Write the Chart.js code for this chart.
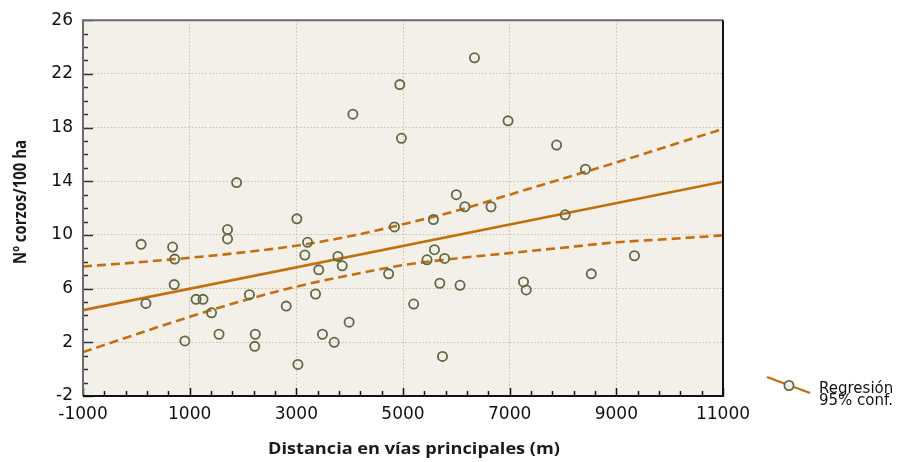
<!DOCTYPE html>
<html lang="es">
<head>
    <meta charset="UTF-8">
    <title>Corzos vs distancia</title>
    <style>
        html, body { margin: 0; padding: 0; background: #ffffff; }
        canvas { display: block; }
    </style>
</head>
<body>
    <canvas id="corzosChart" width="900" height="462"></canvas>

    <script src="https://cdn.jsdelivr.net/npm/chart.js"></script>
    <script>
        // Datos
        const distancia = [90, 180, 680, 720, 710, 910, 1120, 1250, 1410, 1550, 1710, 1710, 1880,
            2120, 2230, 2220, 2810, 3010, 3030, 3160, 3210, 3360, 3420, 3490, 3710, 3780, 3860,
            3990, 4060, 4730, 4840, 4940, 4970, 5200, 5450, 5570, 5590, 5690, 5740, 5780, 6000,
            6070, 6160, 6340, 6650, 6970, 7260, 7310, 7880, 8040, 8420, 8530, 9340];
        const corzos = [9.3, 4.9, 9.1, 8.2, 6.3, 2.1, 5.2, 5.2, 4.2, 2.6, 10.4, 9.7, 13.9,
            5.55, 2.6, 1.7, 4.7, 11.2, 0.35, 8.5, 9.45, 5.6, 7.4, 2.6, 2.0, 8.4, 7.7,
            3.5, 19.0, 7.1, 10.6, 21.2, 17.2, 4.85, 8.15, 11.15, 8.9, 6.4, 0.95, 8.25, 13.0,
            6.25, 12.1, 23.2, 12.1, 18.5, 6.5, 5.9, 16.7, 11.5, 14.9, 7.1, 8.45];

        // Recta de regresión
        const rectaX = [-1000, 11000];
        const rectaY = [4.4, 13.97];

        // Bandas de confianza 95%
        const bandaX = [-1000, 0, 1000, 2000, 3000, 4000, 5000, 6000, 7000, 8000, 9000, 10000, 11000];
        const bandaSup = [7.65, 7.95, 8.3, 8.7, 9.2, 9.9, 10.8, 11.8, 13.0, 14.2, 15.4, 16.65, 17.9];
        const bandaInf = [1.27, 2.6, 3.9, 5.1, 6.15, 7.0, 7.75, 8.25, 8.65, 9.05, 9.45, 9.7, 9.97];

        // Etiquetas de los ejes
        const xTicks = [-1000, 1000, 3000, 5000, 7000, 9000, 11000];
        const yTicks = [-2, 2, 6, 10, 14, 18, 22, 26];

        const naranja = '#c66e0e';
        const oliva = '#5f6a45';
        const fondo = '#f3f0e9';

        const toXY = (xs, ys) => xs.map((x, i) => ({ x: x, y: ys[i] }));

        // Fondo, marco, marcas de graduación, títulos y leyenda
        const marcoPlugin = {
            id: 'marco',
            beforeDraw(chart) {
                const { ctx, chartArea: a } = chart;
                ctx.save();
                ctx.fillStyle = '#ffffff';
                ctx.fillRect(0, 0, chart.width, chart.height);
                ctx.fillStyle = fondo;
                ctx.fillRect(a.left, a.top, a.right - a.left, a.bottom - a.top);
                ctx.restore();
            },
            afterDraw(chart) {
                const { ctx, chartArea: a, scales } = chart;
                const sx = scales.x, sy = scales.y;
                ctx.save();

                // marcas eje x (hacia dentro)
                ctx.strokeStyle = '#111';
                ctx.lineWidth = 1.5;
                for (let v = -1000; v <= 11000; v += 400) {
                    const px = Math.round(sx.getPixelForValue(v)) + 0.5;
                    const len = ((v + 1000) % 2000 === 0) ? 8 : 5;
                    ctx.beginPath();
                    ctx.moveTo(px, a.bottom);
                    ctx.lineTo(px, a.bottom - len);
                    ctx.stroke();
                }
                // marcas eje y
                ctx.strokeStyle = '#333';
                for (let v = -2; v <= 26; v += 1) {
                    const py = Math.round(sy.getPixelForValue(v)) + 0.5;
                    const len = ((v + 2) % 4 === 0) ? 10 : 5;
                    ctx.beginPath();
                    ctx.moveTo(a.left, py);
                    ctx.lineTo(a.left + len, py);
                    ctx.stroke();
                }

                // marco
                ctx.lineWidth = 2;
                ctx.strokeStyle = '#6b6b6b';
                ctx.beginPath();
                ctx.moveTo(a.left, a.bottom);
                ctx.lineTo(a.left, a.top);
                ctx.lineTo(a.right, a.top);
                ctx.stroke();
                ctx.strokeStyle = '#111';
                ctx.beginPath();
                ctx.moveTo(a.right, a.top);
                ctx.lineTo(a.right, a.bottom);
                ctx.lineTo(a.left, a.bottom);
                ctx.stroke();

                // títulos de ejes
                ctx.fillStyle = '#1a1a1a';
                ctx.textAlign = 'center';
                ctx.textBaseline = 'middle';
                ctx.font = 'bold 16px "Open Sans"';
                const tx = 'Distancia en vías principales (m)';
                const kx = 292 / ctx.measureText(tx).width;
                ctx.save();
                ctx.translate(414, 449);
                ctx.scale(kx, 1);
                ctx.fillText(tx, 0, 0);
                ctx.restore();

                const ty = 'Nº corzos/100 ha';
                ctx.font = 'bold 17px "Open Sans"';
                const ky = 124 / ctx.measureText(ty).width;
                ctx.save();
                ctx.translate(21, 202);
                ctx.rotate(-Math.PI / 2);
                ctx.scale(ky, 1);
                ctx.fillText(ty, 0, 0);
                ctx.restore();

                // leyenda
                ctx.strokeStyle = naranja;
                ctx.lineWidth = 2.4;
                ctx.beginPath();
                ctx.moveTo(767, 377);
                ctx.lineTo(810, 393);
                ctx.stroke();
                ctx.beginPath();
                ctx.arc(789, 385.5, 4.6, 0, Math.PI * 2);
                ctx.fillStyle = fondo;
                ctx.fill();
                ctx.strokeStyle = oliva;
                ctx.lineWidth = 1.8;
                ctx.stroke();
                ctx.fillStyle = '#111';
                ctx.textAlign = 'left';
                ctx.textBaseline = 'alphabetic';
                ctx.font = '15px "DejaVu Sans"';
                ctx.fillText('Regresión', 819, 393);
                ctx.fillText('95% conf.', 819, 405);

                ctx.restore();
            }
        };

        const gridColor = (ctx, extremos) =>
            extremos.includes(ctx.tick.value) ? 'rgba(0,0,0,0)' : '#c7c2a2';

        const corzosCtx = document.getElementById('corzosChart');
        const corzosChart = new Chart(corzosCtx, {
            type: 'scatter',
            data: {
                datasets: [{
                    label: 'Observaciones',
                    data: toXY(distancia, corzos),
                    pointStyle: 'circle',
                    pointRadius: 4.6,
                    pointBorderWidth: 1.8,
                    pointBorderColor: oliva,
                    pointBackgroundColor: 'rgba(0,0,0,0)',
                    order: 0
                }, {
                    label: 'Regresión',
                    data: toXY(rectaX, rectaY),
                    showLine: true,
                    borderColor: naranja,
                    borderWidth: 2.6,
                    pointRadius: 0,
                    order: 1
                }, {
                    label: '95% conf. sup',
                    data: toXY(bandaX, bandaSup),
                    showLine: true,
                    borderColor: naranja,
                    borderWidth: 2.6,
                    borderDash: [9, 5],
                    cubicInterpolationMode: 'monotone',
                    pointRadius: 0,
                    order: 1
                }, {
                    label: '95% conf. inf',
                    data: toXY(bandaX, bandaInf),
                    showLine: true,
                    borderColor: naranja,
                    borderWidth: 2.6,
                    borderDash: [9, 5],
                    cubicInterpolationMode: 'monotone',
                    pointRadius: 0,
                    order: 1
                }]
            },
            options: {
                responsive: false,
                animation: false,
                layout: { padding: { top: 14, right: 177, left: 0, bottom: 0 } },
                plugins: {
                    legend: { display: false },
                    tooltip: { enabled: false }
                },
                scales: {
                    x: {
                        type: 'linear',
                        min: -1000,
                        max: 11000,
                        afterFit: (s) => { s.height = 66; },
                        afterBuildTicks: (s) => { s.ticks = xTicks.map(v => ({ value: v })); },
                        ticks: {
                            padding: 8,
                            maxRotation: 0,
                            autoSkip: false,
                            color: '#111',
                            font: { family: 'DejaVu Sans', size: 17 },
                            callback: (v) => String(v)
                        },
                        grid: {
                            color: (ctx) => gridColor(ctx, [-1000, 11000]),
                            lineWidth: 1,
                            drawTicks: false
                        },
                        border: { display: false, dash: [1.5, 2] }
                    },
                    y: {
                        type: 'linear',
                        min: -2,
                        max: 26,
                        afterFit: (s) => { s.width = 83; },
                        afterBuildTicks: (s) => { s.ticks = yTicks.map(v => ({ value: v })); },
                        ticks: {
                            padding: 10,
                            autoSkip: false,
                            color: '#111',
                            font: { family: 'DejaVu Sans', size: 17 },
                            callback: (v) => String(v)
                        },
                        grid: {
                            color: (ctx) => gridColor(ctx, [-2, 26]),
                            lineWidth: 1,
                            drawTicks: false
                        },
                        border: { display: false, dash: [1.5, 2] }
                    }
                }
            },
            plugins: [marcoPlugin]
        });
    </script>
</body>
</html>
